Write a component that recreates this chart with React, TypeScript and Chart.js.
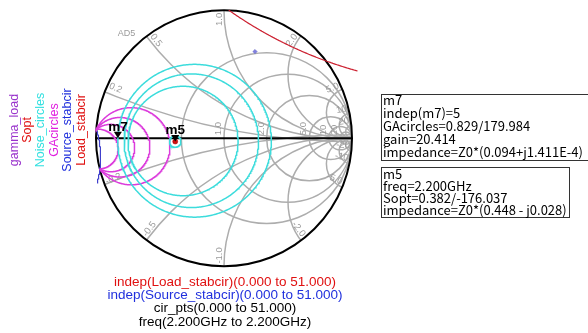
import React, { useEffect, useRef } from 'react';
import { Chart, registerables } from 'chart.js';

Chart.register(...registerables);

// ---------- Smith chart grid ----------
const resistanceValues = [0.5, 1, 2, 5, 10, 20];
const resistanceLabelValues = [1, 2, 5, 10, 20];
const resistanceLabels = ['1.0', '2.0', '5.0', '10', '20'];
const reactanceValues = [0.2, 0.5, 1, 2, 5, 10, 20];
const reactanceLabels = ['0.2', '0.5', '1.0', '2.0', '5.0', '10', '20'];

// ---------- Noise circles (center x, center y, radius in reflection-coefficient units) ----------
const noiseCx = [-0.23, -0.255, -0.32, -0.381];
const noiseCy = [-0.02, -0.02, -0.022, -0.026];
const noiseR = [0.6, 0.525, 0.43, 0.045];

// ---------- Available gain circles ----------
const gaCx = [-0.984, -0.884, -0.813, -0.725];
const gaCy = [-0.086, -0.077, -0.071, -0.063];
const gaR = [0.157, 0.186, 0.234, 0.303];

// ---------- Stability circles: [cx, cy, r, startDeg, endDeg] ----------
const sourceStab = [-1.714, -0.15, 0.75, -15.6, 17.5];
const loadStab = [1.909, 3.65, 3.24, -125.3, -105.5];

// ---------- Points (magnitude, angle deg) ----------
const soptPoint = [0.382, -176.037];
const gammaLoadPoint = [0.722, 70.4];
const markerNames = ['m7', 'm5'];
const markerMag = [0.829, 0.382];
const markerAng = [179.984, -176.037];

// ---------- Text ----------
const legendNames = ['gamma_load', 'Sopt', 'Noise_circles', 'GAcircles', 'Source_stabcir', 'Load_stabcir'];
const legendColors = ['#9933cc', '#e01010', '#33e0e0', '#e020e0', '#2030dd', '#e01010'];
const m7Lines = ['m7', 'indep(m7)=5', 'GAcircles=0.829/179.984', 'gain=20.414', 'impedance=Z0*(0.094+j1.411E-4)'];
const m5Lines = ['m5', 'freq=2.200GHz', 'Sopt=0.382/-176.037', 'impedance=Z0*(0.448 - j0.028)'];
const bottomLines = [
  'indep(Load_stabcir)(0.000 to 51.000)',
  'indep(Source_stabcir)(0.000 to 51.000)',
  'cir_pts(0.000 to 51.000)',
  'freq(2.200GHz to 2.200GHz)',
];
const bottomColors = ['#e01010', '#2030dd', '#000000', '#000000'];

const W = 588;
const H = 333;
const CX = 224;
const CY = 137.5;
const RAD = 128;
const LIM = 1.05;

const GRID = '#adadad';
const CYAN = '#3cdcdc';
const MAGENTA = '#dc3cdc';

function polar(mag: number, deg: number) {
  const a = (deg * Math.PI) / 180;
  return { x: mag * Math.cos(a), y: mag * Math.sin(a) };
}

function arcPts(cx: number, cy: number, r: number, a0: number, a1: number, n = 240) {
  const pts: { x: number; y: number }[] = [];
  for (let i = 0; i <= n; i++) {
    const a = ((a0 + ((a1 - a0) * i) / n) * Math.PI) / 180;
    pts.push({ x: cx + r * Math.cos(a), y: cy + r * Math.sin(a) });
  }
  return pts;
}

// arc of a circle that lies inside the unit circle, starting from its rightmost point
function insideArc(cx: number, cy: number, r: number) {
  const inside = (a: number) => {
    const x = cx + r * Math.cos(a);
    const y = cy + r * Math.sin(a);
    return x * x + y * y <= 1;
  };
  const edge = (dir: number) => {
    let lo = 0;
    let hi = dir * Math.PI;
    if (inside(hi)) return hi;
    for (let k = 0; k < 40; k++) {
      const mid = (lo + hi) / 2;
      if (inside(mid)) lo = mid;
      else hi = mid;
    }
    return lo;
  };
  const a0 = (edge(-1) * 180) / Math.PI;
  const a1 = (edge(1) * 180) / Math.PI;
  return arcPts(cx, cy, r, a0, a1, 300);
}

export default function App() {
  const ref = useRef<HTMLCanvasElement | null>(null);

  useEffect(() => {
    const canvas = ref.current;
    if (!canvas) return;

    const datasets: any[] = [];
    noiseCx.forEach((cx, i) => {
      datasets.push({
        data: arcPts(cx, noiseCy[i], noiseR[i], 0, 360, 360),
        borderColor: CYAN,
        borderWidth: 1.5,
        showLine: true,
        pointRadius: 0,
        fill: false,
      });
    });
    gaCx.forEach((cx, i) => {
      datasets.push({
        data: insideArc(cx, gaCy[i], gaR[i]),
        borderColor: MAGENTA,
        borderWidth: 1.5,
        showLine: true,
        pointRadius: 0,
        fill: false,
      });
    });
    datasets.push({
      data: arcPts(sourceStab[0], sourceStab[1], sourceStab[2], sourceStab[3], sourceStab[4], 120),
      borderColor: '#4040cc',
      borderWidth: 1.2,
      showLine: true,
      pointRadius: 0,
    });
    datasets.push({
      data: arcPts(loadStab[0], loadStab[1], loadStab[2], loadStab[3], loadStab[4], 200),
      borderColor: '#cc2030',
      borderWidth: 1.2,
      showLine: true,
      pointRadius: 0,
    });
    datasets.push({
      data: [polar(soptPoint[0], soptPoint[1])],
      pointRadius: 2.5,
      pointBackgroundColor: '#d01010',
      pointBorderColor: '#a00000',
      pointBorderWidth: 0.5,
      showLine: false,
    });
    datasets.push({
      data: [polar(gammaLoadPoint[0], gammaLoadPoint[1])],
      pointStyle: 'rectRot',
      pointRadius: 2.2,
      pointBackgroundColor: '#8080e0',
      pointBorderColor: '#6060c0',
      pointBorderWidth: 0.5,
      showLine: false,
    });

    const smithPlugin = {
      id: 'smith',
      beforeDatasetsDraw(chart: any) {
        const ctx: CanvasRenderingContext2D = chart.ctx;
        const xs = chart.scales.x;
        const ys = chart.scales.y;
        const px = (v: number) => xs.getPixelForValue(v);
        const py = (v: number) => ys.getPixelForValue(v);
        const unit = px(1) - px(0);
        const ox = px(0);
        const oy = py(0);

        ctx.save();
        ctx.fillStyle = '#ffffff';
        ctx.fillRect(0, 0, W, H);

        ctx.save();
        ctx.beginPath();
        ctx.arc(ox, oy, unit, 0, Math.PI * 2);
        ctx.clip();
        ctx.strokeStyle = GRID;
        ctx.lineWidth = 1.5;
        resistanceValues.forEach((r) => {
          const c = r / (1 + r);
          const rr = 1 / (1 + r);
          ctx.beginPath();
          ctx.arc(px(c), py(0), rr * unit, 0, Math.PI * 2);
          ctx.stroke();
        });
        reactanceValues.forEach((x) => {
          [1, -1].forEach((s) => {
            ctx.beginPath();
            ctx.arc(px(1), py((s * 1) / x), unit / x, 0, Math.PI * 2);
            ctx.stroke();
          });
        });
        ctx.restore();

        ctx.fillStyle = '#9a9a9a';
        ctx.font = '9.5px "Liberation Sans", Arial, sans-serif';
        resistanceLabelValues.forEach((r, i) => {
          const g = (r - 1) / (r + 1);
          ctx.save();
          ctx.translate(px(g) - 1, oy - 3);
          ctx.rotate(-Math.PI / 2);
          ctx.textAlign = 'left';
          ctx.textBaseline = 'bottom';
          ctx.fillText(resistanceLabels[i], 0, 0);
          ctx.restore();
        });
        reactanceValues.forEach((x, i) => {
          [1, -1].forEach((s) => {
            const gx = (x * x - 1) / (x * x + 1);
            const gy = (s * 2 * x) / (x * x + 1);
            const bx = px(gx * 0.985);
            const by = py(gy * 0.985);
            const phi = Math.atan2(-gy, gx);
            const label = (s < 0 ? '-' : '') + reactanceLabels[i];
            ctx.save();
            ctx.translate(bx, by);
            if (Math.abs(Math.cos(phi)) < 0.02) {
              ctx.rotate(-Math.PI / 2);
              ctx.textAlign = gy > 0 ? 'right' : 'left';
            } else if (Math.cos(phi) > 0) {
              ctx.rotate(phi);
              ctx.textAlign = 'right';
            } else {
              ctx.rotate(phi + Math.PI);
              ctx.textAlign = 'left';
            }
            ctx.textBaseline = 'bottom';
            ctx.fillText(label, 0, 0);
            ctx.restore();
          });
        });

        ctx.strokeStyle = '#000000';
        ctx.lineWidth = 2;
        ctx.beginPath();
        ctx.arc(ox, oy, unit, 0, Math.PI * 2);
        ctx.stroke();
        ctx.beginPath();
        ctx.moveTo(px(-1), oy);
        ctx.lineTo(px(1), oy);
        ctx.stroke();

        ctx.fillStyle = '#9a9a9a';
        ctx.font = '9px "Liberation Sans", Arial, sans-serif';
        ctx.textAlign = 'left';
        ctx.textBaseline = 'alphabetic';
        ctx.fillText('AD5', px(-0.83), py(0.8));
        ctx.restore();
      },
      afterDatasetsDraw(chart: any) {
        const ctx: CanvasRenderingContext2D = chart.ctx;
        const xs = chart.scales.x;
        const ys = chart.scales.y;
        ctx.save();
        markerNames.forEach((name, i) => {
          const p = polar(markerMag[i], markerAng[i]);
          const x = xs.getPixelForValue(p.x);
          const y = ys.getPixelForValue(p.y);
          ctx.fillStyle = '#000000';
          ctx.beginPath();
          ctx.moveTo(x, y);
          ctx.lineTo(x - 4, y - 6.5);
          ctx.lineTo(x + 4, y - 6.5);
          ctx.closePath();
          ctx.fill();
          ctx.font = 'bold 13.5px "Liberation Sans", Arial, sans-serif';
          ctx.textAlign = 'center';
          ctx.textBaseline = 'alphabetic';
          ctx.fillText(name, x, y - 7.5);
        });

        ctx.font = '12.5px "Liberation Sans", Arial, sans-serif';
        ctx.textAlign = 'center';
        ctx.textBaseline = 'middle';
        const legendX = [15, 28, 41, 54.5, 68, 81.5];
        legendNames.forEach((n, i) => {
          ctx.save();
          ctx.translate(legendX[i], 130);
          ctx.rotate(-Math.PI / 2);
          ctx.fillStyle = legendColors[i];
          ctx.fillText(n, 0, 0);
          ctx.restore();
        });

        ctx.strokeStyle = '#333333';
        ctx.lineWidth = 1;
        ctx.strokeRect(381.5, 94.5, 220, 66);
        ctx.strokeRect(381.5, 167.5, 188, 50);
        ctx.fillStyle = '#000000';
        ctx.font = '13px "Noto Sans CJK JP", "Liberation Sans", sans-serif';
        ctx.textAlign = 'left';
        ctx.textBaseline = 'alphabetic';
        m7Lines.forEach((t, i) => ctx.fillText(t, 383, 105 + i * 13.1));
        m5Lines.forEach((t, i) => ctx.fillText(t, 383, 179 + i * 11.9));

        ctx.font = '13.5px "Liberation Sans", Arial, sans-serif';
        ctx.textAlign = 'center';
        bottomLines.forEach((t, i) => {
          ctx.fillStyle = bottomColors[i];
          ctx.fillText(t, 225, 286 + i * 13.2);
        });
        ctx.restore();
      },
    };

    const chart = new Chart(canvas, {
      type: 'scatter',
      data: { datasets },
      options: {
        animation: false,
        responsive: false,
        maintainAspectRatio: false,
        events: [],
        layout: {
          padding: {
            left: CX - LIM * RAD,
            right: W - (CX + LIM * RAD),
            top: CY - LIM * RAD,
            bottom: H - (CY + LIM * RAD),
          },
        },
        scales: {
          x: { type: 'linear', min: -LIM, max: LIM, display: false },
          y: { type: 'linear', min: -LIM, max: LIM, display: false },
        },
        plugins: {
          legend: { display: false },
          tooltip: { enabled: false },
          title: { display: false },
        },
      } as any,
      plugins: [smithPlugin],
    });

    return () => {
      chart.destroy();
    };
  }, []);

  return (
    <div style={{ position: 'absolute', left: 0, top: 0, width: W, height: H, background: '#fff' }}>
      <canvas ref={ref} width={W} height={H} style={{ width: W, height: H, display: 'block' }} />
    </div>
  );
}
